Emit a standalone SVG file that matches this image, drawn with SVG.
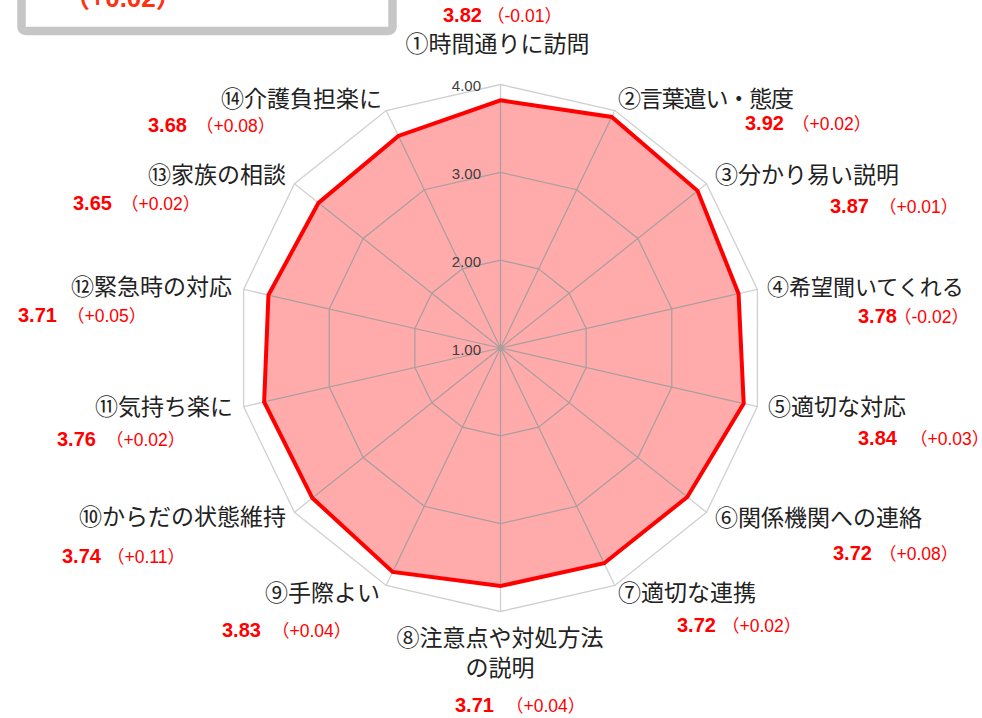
<svg xmlns="http://www.w3.org/2000/svg" width="982" height="718" viewBox="0 0 982 718">
<style>
.lbl{font-family:"Noto Sans CJK JP","Noto Sans CJK SC",sans-serif;font-size:23px;fill:#222}
.val{font-family:"Liberation Sans","Noto Sans CJK JP",sans-serif;fill:#ff0000}
.num{font-size:20px;font-weight:bold}
.par{font-size:17.5px}
.tick{font-family:"Liberation Sans",sans-serif;font-size:15px;fill:#404040;text-anchor:end}
</style>
<defs>
<g id="grid" fill="none">
<polygon points="500.5,84.5 614.83,110.59 706.51,183.71 757.39,289.37 757.39,406.63 706.51,512.29 614.83,585.41 500.5,611.5 386.17,585.41 294.49,512.29 243.61,406.63 243.61,289.37 294.49,183.71 386.17,110.59"/>
<polygon points="500.5,172.33 576.72,189.73 637.84,238.47 671.77,308.91 671.77,387.09 637.84,457.53 576.72,506.27 500.5,523.67 424.28,506.27 363.16,457.53 329.23,387.09 329.23,308.91 363.16,238.47 424.28,189.73"/>
<polygon points="500.5,260.17 538.61,268.87 569.17,293.24 586.13,328.46 586.13,367.54 569.17,402.76 538.61,427.13 500.5,435.83 462.39,427.13 431.83,402.76 414.87,367.54 414.87,328.46 431.83,293.24 462.39,268.87"/>
<path d="M500.5,348L500.5,84.5M500.5,348L614.83,110.59M500.5,348L706.51,183.71M500.5,348L757.39,289.37M500.5,348L757.39,406.63M500.5,348L706.51,512.29M500.5,348L614.83,585.41M500.5,348L500.5,611.5M500.5,348L386.17,585.41M500.5,348L294.49,512.29M500.5,348L243.61,406.63M500.5,348L243.61,289.37M500.5,348L294.49,183.71M500.5,348L386.17,110.59"/>
</g>
<clipPath id="dataClip">
<polygon points="500.5,100.31 611.78,116.93 697.58,190.83 738.56,293.66 743.70,403.51 687.29,496.96 604.16,563.25 500.5,586.03 392.65,571.95 312.34,498.05 264.16,401.94 268.44,295.03 318.52,202.88 398.37,135.92"/>
</clipPath>
</defs>
<rect width="982" height="718" fill="#ffffff"/>

<g id="legend-box">
<rect x="21.5" y="-20" width="371" height="51" rx="4" fill="#ffffff" stroke="#c6c6c6" stroke-width="8.5"/>
<text x="64" y="7" font-family="'Liberation Sans','Noto Sans CJK JP',sans-serif" font-size="26" font-weight="bold" fill="#ff3010">（+0.02）</text>
</g>

<g id="connectors">
<use href="#grid" stroke="#d0d0d0" stroke-width="1.3"/>
<polygon id="data-fill" points="500.5,100.31 611.78,116.93 697.58,190.83 738.56,293.66 743.70,403.51 687.29,496.96 604.16,563.25 500.5,586.03 392.65,571.95 312.34,498.05 264.16,401.94 268.44,295.03 318.52,202.88 398.37,135.92" fill="#ffaaab" stroke="none"/>
<g clip-path="url(#dataClip)">
<use href="#grid" stroke="#a89e9e" stroke-width="1.2"/>
</g>
<polygon id="data-line" points="500.5,100.31 611.78,116.93 697.58,190.83 738.56,293.66 743.70,403.51 687.29,496.96 604.16,563.25 500.5,586.03 392.65,571.95 312.34,498.05 264.16,401.94 268.44,295.03 318.52,202.88 398.37,135.92" fill="none" stroke="#ff0000" stroke-width="4" stroke-linejoin="miter"/>
</g>

<g id="ticks">
<text class="tick" x="481" y="91">4.00</text>
<text class="tick" x="481" y="179">3.00</text>
<text class="tick" x="481" y="267">2.00</text>
<text class="tick" x="481" y="355">1.00</text>
</g>

<g id="item1">
<text class="lbl" x="497.5" y="52" text-anchor="middle">①時間通りに訪問</text>
<text class="val"><tspan class="num" x="443" y="22">3.82</tspan><tspan class="par" x="487" y="22">（-0.01）</tspan></text>
</g>
<g id="item2">
<text class="lbl" x="618" y="107" textLength="176" lengthAdjust="spacing">②言葉遣い・態度</text>
<text class="val"><tspan class="num" x="745" y="130">3.92</tspan><tspan class="par" x="792" y="130">（+0.02）</tspan></text>
</g>
<g id="item3">
<text class="lbl" x="715" y="183">③分かり易い説明</text>
<text class="val"><tspan class="num" x="830" y="213">3.87</tspan><tspan class="par" x="879" y="213">（+0.01）</tspan></text>
</g>
<g id="item4">
<text class="lbl" x="767" y="295" style="font-size:22px">④希望聞いてくれる</text>
<text class="val"><tspan class="num" x="858" y="323">3.78</tspan><tspan class="par" x="894" y="323">（-0.02）</tspan></text>
</g>
<g id="item5">
<text class="lbl" x="768" y="415">⑤適切な対応</text>
<text class="val"><tspan class="num" x="858" y="445">3.84</tspan><tspan class="par" x="910" y="445">（+0.03）</tspan></text>
</g>
<g id="item6">
<text class="lbl" x="715" y="526">⑥関係機関への連絡</text>
<text class="val"><tspan class="num" x="833" y="560">3.72</tspan><tspan class="par" x="879" y="560">（+0.08）</tspan></text>
</g>
<g id="item7">
<text class="lbl" x="618" y="601">⑦適切な連携</text>
<text class="val"><tspan class="num" x="677" y="632">3.72</tspan><tspan class="par" x="722" y="632">（+0.02）</tspan></text>
</g>
<g id="item8">
<text class="lbl" x="500" y="646" text-anchor="middle">⑧注意点や対処方法</text>
<text class="lbl" x="500" y="676" text-anchor="middle">の説明</text>
<text class="val"><tspan class="num" x="455" y="712">3.71</tspan><tspan class="par" x="506" y="712">（+0.04）</tspan></text>
</g>
<g id="item9">
<text class="lbl" x="380" y="601" text-anchor="end">⑨手際よい</text>
<text class="val"><tspan class="num" x="222" y="637">3.83</tspan><tspan class="par" x="272" y="637">（+0.04）</tspan></text>
</g>
<g id="item10">
<text class="lbl" x="286" y="525" text-anchor="end">⑩からだの状態維持</text>
<text class="val"><tspan class="num" x="62" y="563">3.74</tspan><tspan class="par" x="107" y="563">（+0.11）</tspan></text>
</g>
<g id="item11">
<text class="lbl" x="233" y="415" text-anchor="end">⑪気持ち楽に</text>
<text class="val"><tspan class="num" x="57" y="446">3.76</tspan><tspan class="par" x="106" y="446">（+0.02）</tspan></text>
</g>
<g id="item12">
<text class="lbl" x="232" y="295" text-anchor="end">⑫緊急時の対応</text>
<text class="val"><tspan class="num" x="18" y="322">3.71</tspan><tspan class="par" x="67" y="322">（+0.05）</tspan></text>
</g>
<g id="item13">
<text class="lbl" x="286" y="183" text-anchor="end">⑬家族の相談</text>
<text class="val"><tspan class="num" x="73" y="210">3.65</tspan><tspan class="par" x="121" y="210">（+0.02）</tspan></text>
</g>
<g id="item14">
<text class="lbl" x="382" y="107" text-anchor="end">⑭介護負担楽に</text>
<text class="val"><tspan class="num" x="148" y="132">3.68</tspan><tspan class="par" x="196" y="132">（+0.08）</tspan></text>
</g>
</svg>
